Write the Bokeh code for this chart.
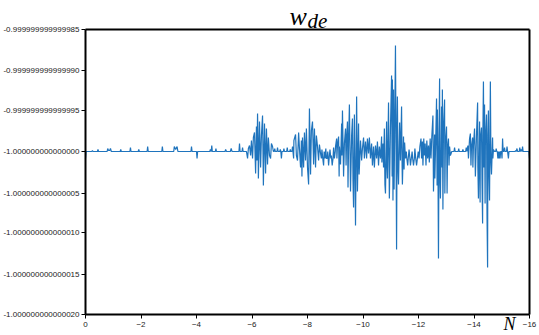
from bokeh.plotting import figure
from bokeh.models import (Range1d, FixedTicker, PrintfTickFormatter, Label, LinearAxis)
from bokeh.embed import file_html
from bokeh.resources import INLINE
import numpy as np

quiet1_N = [0.00, -0.02, -0.23, -0.25, -0.27, -0.43, -0.45, -0.47, -0.78, -0.80, -0.83, -0.87, -0.90, -0.93,
            -1.25, -1.27, -1.29, -1.60, -1.62, -1.64, -1.90, -1.92, -1.94, -2.22, -2.24, -2.26, -2.75, -2.77,
            -2.79, -3.18, -3.20, -3.25, -3.30, -3.33, -3.80, -3.82, -3.84, -4.00, -4.02, -4.04, -4.48, -4.50,
            -4.53, -4.55, -4.57, -4.68, -4.70, -4.72, -5.03, -5.05, -5.08, -5.22, -5.25, -5.28, -5.53, -5.55,
            -5.57, -5.64, -5.66, -5.68, -5.72]
quiet1_dev = [-9, 0, 0, 1, 0, 0, 2, 0, 0, 3, 1, 1, 3, 0,
              0, 2, 0, 0, 4, 0, 0, 2, 0, 0, 5, 0, 0, 6,
              0, 0, 5, 2, 5, 0, 0, 6, 0, 0, -9, 0, 0, 2,
              0, 8, 0, 0, 3, 0, 0, 2, 0, 0, 3, 0, 0, 10,
              0, 0, 4, 0, 0]

burst1_N = [-5.80, -5.84, -5.87, -5.91, -5.95, -5.98, -6.02, -6.05, -6.09, -6.13, -6.16, -6.18, -6.20, -6.22,
            -6.23, -6.27, -6.31, -6.34, -6.38, -6.40, -6.41, -6.45, -6.49, -6.52, -6.56, -6.59, -6.63, -6.67,
            -6.70, -6.74, -6.77]
burst1_dev = [0, -9, 3, 8, -5, 13, -8, 18, 23, -26, 31, -12, 47, 5,
              -33, 37, -20, 20, 44, -10, -42, 34, -26, 29, -15, 17, -5, -9,
              10, 7, 0]

quiet2_N = [-6.80, -6.82, -6.84, -6.90, -6.92, -6.94, -7.00, -7.02, -7.04, -7.06, -7.08, -7.13, -7.15, -7.17,
            -7.25, -7.27, -7.29, -7.36, -7.38, -7.40, -7.44]
quiet2_dev = [0, 3, 0, 0, 4, 0, 0, 2, 0, -9, 0, 0, 3, 0,
              0, 4, 0, 0, 2, 0, 0]

burst2_N = [-7.46, -7.50, -7.51, -7.57, -7.60, -7.64, -7.68, -7.71, -7.75, -7.78, -7.80, -7.82, -7.86, -7.89,
            -7.93, -7.96, -8.00, -8.04, -8.07, -8.11, -8.14, -8.18, -8.22, -8.25, -8.29, -8.32, -8.36, -8.40,
            -8.43, -8.47]
burst2_dev = [5, -9, 13, 21, -5, -12, 23, 3, -20, 13, -30, 17, -20, 23,
              -10, 28, -20, -40, 53, -28, 25, 37, -15, 29, -20, 20, 7, -12,
              9, -3]

band1_N = [-8.50, -8.52, -8.55, -8.58, -8.60, -8.63, -8.66, -8.68, -8.71, -8.73, -8.76, -8.78, -8.81, -8.84,
           -8.86, -8.89, -8.92, -8.94, -8.97, -9.00]
band1_dev = [-9, 2, -9, -18, 0, -9, 3, -9, -9, 0, -18, -9, 2, -9,
             -4, -18, -9, 4, -9, 0]

burst3_N = [-9.01, -9.05, -9.06, -9.08, -9.12, -9.14, -9.15, -9.19, -9.23, -9.24, -9.26, -9.30, -9.33, -9.37,
            -9.39, -9.41, -9.44, -9.46, -9.48, -9.51, -9.55, -9.59, -9.62, -9.64, -9.66, -9.69, -9.73, -9.77,
            -9.80, -9.84, -9.86, -9.91, -9.95, -9.98]
burst3_dev = [5, 15, -8, 8, 19, -30, 5, -15, 34, -5, 50, -30, 10, 29,
              -18, 15, 37, -45, 10, 58, -48, 20, 41, -36, -69, 46, -92, 68,
              -48, 34, -28, 13, -12, 3]

small1_N = [-10.02, -10.05, -10.09, -10.13, -10.16, -10.20, -10.23, -10.27, -10.31, -10.34, -10.38, -10.41,
            -10.45, -10.49, -10.52, -10.56, -10.59, -10.63]
small1_dev = [17, -9, 12, -9, 15, -3, 17, -9, 10, -18, 5, -20,
              8, -9, 12, -18, 6, -9]

burst4_N = [-10.67, -10.68, -10.72, -10.74, -10.77, -10.79, -10.81, -10.85, -10.86, -10.88, -10.92, -10.94,
            -10.95, -10.99, -11.03, -11.05, -11.06, -11.08, -11.10, -11.12, -11.14, -11.17, -11.19, -11.21,
            -11.23, -11.24, -11.26, -11.28, -11.32, -11.35, -11.39, -11.41, -11.42, -11.46, -11.48, -11.50,
            -11.53]
burst4_dev = [19, -14, 10, -20, 28, -39, -51, 37, -10, -34, 60, -20,
              -58, 30, 93, -30, 89, -61, 77, -46, 20, 130, 10, -120,
              40, 68, -20, -39, 35, -10, 56, -20, -39, 19, -22, 11,
              -9]

band2_N = [-11.56, -11.58, -11.61, -11.63, -11.66, -11.69, -11.71, -11.74, -11.77, -11.79, -11.82, -11.85,
           -11.87, -11.90, -11.93, -11.96, -11.99, -12.02, -12.05]
band2_dev = [0, -9, -18, -9, 2, -9, -18, -9, 0, -9, -18, -9,
             3, -9, -18, -9, 0, -9, 5]

small2_N = [-12.09, -12.11, -12.14, -12.16, -12.19, -12.21, -12.24, -12.27, -12.30, -12.33, -12.36, -12.39,
            -12.42, -12.45, -12.48]
small2_dev = [15, -9, 12, -18, 15, -5, 10, -18, 13, -9, 8, -14,
              15, -9, 19]

burst5_N = [-12.52, -12.54, -12.58, -12.59, -12.63, -12.65, -12.67, -12.68, -12.70, -12.72, -12.74, -12.76,
            -12.77, -12.79, -12.83, -12.85, -12.86, -12.88, -12.90, -12.94, -12.95, -12.97, -13.01, -13.03,
            -13.05, -13.08, -13.10, -13.12, -13.15]
burst5_dev = [44, -48, 21, -34, 30, 66, -42, 52, -10, -131, 20, 90,
              -30, -58, 56, -20, 77, -71, 30, 64, -51, 10, 31, -51,
              5, 15, -18, 5, -5]

quiet3_N = [-13.20, -13.28, -13.30, -13.32, -13.43, -13.45, -13.47, -13.58, -13.60, -13.62, -13.70, -13.72,
            -13.74]
quiet3_dev = [0, 0, 4, 0, 0, 3, 0, 0, 2, 0, 0, 4,
              0]

burst6_N = [-13.78, -13.80, -13.84, -13.87, -13.89, -13.91, -13.95, -13.96, -13.98, -14.02, -14.04, -14.05,
            -14.09, -14.13, -14.14, -14.16, -14.20, -14.22, -14.23, -14.27, -14.29, -14.31, -14.32, -14.34,
            -14.36, -14.38, -14.40, -14.41, -14.45, -14.47, -14.49, -14.50, -14.52, -14.54, -14.56, -14.59,
            -14.61, -14.63, -14.67, -14.68, -14.70]
burst6_dev = [8, -9, 15, 22, -18, 5, 17, -20, 8, 28, -10, -30,
              20, 60, -20, -57, 37, -63, 15, 30, -40, -89, 20, 87,
              -20, 58, -64, 10, 46, -82, -143, 20, 50, -30, -61, 87,
              -10, -28, 17, -9, 2]

quiet4_N = [-14.74, -14.78, -14.80, -14.82, -14.84, -14.86, -14.88, -14.90, -14.92, -14.94, -14.96, -14.99,
            -15.01, -15.03, -15.05, -15.08, -15.10, -15.12, -15.17, -15.19, -15.21, -15.24, -15.26, -15.48,
            -15.50, -15.52, -15.55, -15.57, -15.63, -15.65, -15.67, -15.70, -15.73, -15.75, -15.77, -15.98,
            -16.00]
quiet4_dev = [0, 0, 3, 0, 0, -9, 0, -9, 0, -9, 0, 0,
              -9, 15, 0, 0, 4, 0, 0, 7, 0, -9, 0, 0,
              1, 0, 3, 0, 0, 4, 0, 2, 0, 6, 0, 0,
              -9]

x_ticks = [0, -2, -4, -6, -8, -10, -12, -14, -16]
y_ticks = [-1.000000000000020, -1.000000000000015, -1.000000000000010, -1.000000000000005,
           -1.000000000000000, -0.999999999999995, -0.999999999999990, -0.999999999999985]

segments_N = [quiet1_N, burst1_N, quiet2_N, burst2_N, band1_N, burst3_N, small1_N, burst4_N,
              band2_N, small2_N, burst5_N, quiet3_N, burst6_N, quiet4_N]
segments_dev = [quiet1_dev, burst1_dev, quiet2_dev, burst2_dev, band1_dev, burst3_dev, small1_dev, burst4_dev,
                band2_dev, small2_dev, burst5_dev, quiet3_dev, burst6_dev, quiet4_dev]
N_vals = [v for s in segments_N for v in s]
dev_vals = [v for s in segments_dev for v in s]
w_de = -1.0 + np.array(dev_vals, dtype=float) * 1e-16

X_MIN, X_MAX = -16.0, 0.0
Y_MIN, Y_MAX = -1.000000000000020, -0.999999999999985

# layout (pixels): the plot frame fills the canvas, the boxed plot area sits inside it
W, H = 539, 335
BOX_LEFT, BOX_RIGHT, BOX_TOP, BOX_BOTTOM = 85, 529, 29, 314
xs = (X_MAX - X_MIN) / (BOX_RIGHT - BOX_LEFT)
ys = (Y_MAX - Y_MIN) / (BOX_BOTTOM - BOX_TOP)
x_start = X_MAX + xs * BOX_LEFT
x_end = X_MIN - xs * (W - BOX_RIGHT)
y_start = Y_MIN - ys * (H - BOX_BOTTOM)
y_end = Y_MAX + ys * BOX_TOP

p = figure(width=W, height=H, output_backend="svg", toolbar_location=None, title=None,
           x_range=Range1d(x_start, x_end), y_range=Range1d(y_start, y_end),
           min_border_left=0, min_border_right=0, min_border_top=0, min_border_bottom=0)

p.line(N_vals, w_de, line_color="#1f74bd", line_width=1.2)

p.xgrid.visible = False
p.ygrid.visible = False
p.background_fill_color = "white"
p.border_fill_color = "white"
p.outline_line_color = None

for ax in (p.xaxis[0], p.yaxis[0]):
    ax.axis_line_color = "black"
    ax.axis_line_width = 2
    ax.major_tick_line_color = "black"
    ax.major_tick_line_width = 1
    ax.major_tick_in = 0
    ax.major_tick_out = 4
    ax.minor_tick_line_color = None
    ax.minor_tick_out = 0
    ax.major_label_text_font = "Liberation Sans"
    ax.major_label_text_font_size = "8px"
    ax.major_label_text_color = "#222222"

p.xaxis[0].ticker = FixedTicker(ticks=x_ticks)
p.xaxis[0].major_label_standoff = 3
p.xaxis[0].fixed_location = Y_MIN
p.xaxis[0].bounds = (X_MIN, X_MAX)
p.yaxis[0].ticker = FixedTicker(ticks=y_ticks)
p.yaxis[0].formatter = PrintfTickFormatter(format="%.15f")
p.yaxis[0].major_label_standoff = 2
p.yaxis[0].fixed_location = X_MAX
p.yaxis[0].bounds = (Y_MIN, Y_MAX)

# right and top edges of the box
right_ax = LinearAxis(ticker=FixedTicker(ticks=[]), bounds=(Y_MIN, Y_MAX), fixed_location=X_MIN,
                      axis_line_color="black", axis_line_width=2,
                      major_tick_out=0, major_tick_in=0, minor_tick_out=0, minor_tick_in=0,
                      major_label_standoff=0)
p.add_layout(right_ax, "right")
top_ax = LinearAxis(ticker=FixedTicker(ticks=[]), bounds=(X_MIN, X_MAX), fixed_location=Y_MAX,
                    axis_line_color="black", axis_line_width=2,
                    major_tick_out=0, major_tick_in=0, minor_tick_out=0, minor_tick_in=0,
                    major_label_standoff=0)
p.add_layout(top_ax, "above")

# title w_{de}
p.add_layout(Label(x=289, y=H - 16, x_units="screen", y_units="screen", text="w",
                   text_font="Liberation Serif", text_font_style="italic",
                   text_font_size="26px", text_color="black", text_baseline="alphabetic"))
p.add_layout(Label(x=307, y=H - 20, x_units="screen", y_units="screen", text="de",
                   text_font="Liberation Serif", text_font_style="italic",
                   text_font_size="21px", text_color="black", text_baseline="alphabetic"))
# axis name N
p.add_layout(Label(x=503, y=H - 323.5, x_units="screen", y_units="screen", text="N",
                   text_font="Liberation Serif", text_font_style="italic",
                   text_font_size="18px", text_color="black", text_baseline="alphabetic"))

open("out.html", "w").write(file_html(p, INLINE))
